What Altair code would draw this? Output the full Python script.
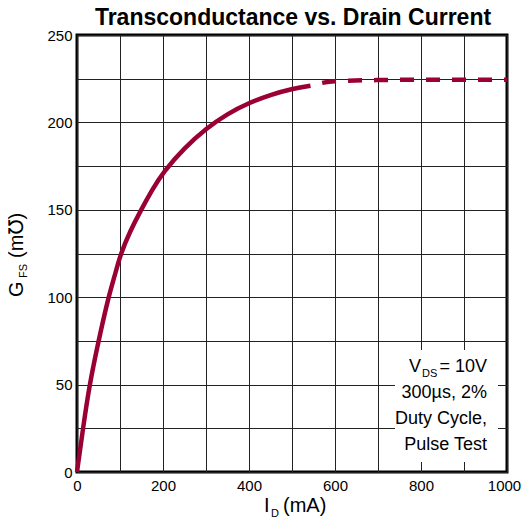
import altair as alt
import pandas as pd

# ---- data ----
ID_SOLID = [0, 14, 29, 50, 73, 88, 101, 123, 149, 175, 200, 250, 300, 350, 400, 450, 500, 543]
G_SOLID = [0, 25, 50, 75, 100, 112.5, 124.5, 137.5, 150, 161.5, 171.5, 185.5, 196.5, 205, 211.2, 215.8, 219.2, 221]
ID_DASH = [543, 600, 700, 800, 900, 1000]
G_DASH = [221, 223.6, 224.2, 224.4, 224.4, 224.4]

X_TICKS = list(range(0, 1001, 100))
Y_TICKS = list(range(0, 251, 25))

TITLE = "Transconductance vs. Drain Current"
NOTE_LINES = ["300µs, 2%", "Duty Cycle,", "Pulse Test"]

FONT = "Liberation Sans, Arial, DejaVu Sans, sans-serif"
RED = "#9b0034"

solid = pd.DataFrame({"id": ID_SOLID, "g": G_SOLID})
dash = pd.DataFrame({"id": ID_DASH, "g": G_DASH})
one = pd.DataFrame({"k": [0]})

xs = alt.Scale(domain=[0, 1000], nice=False)
ys = alt.Scale(domain=[0, 250], nice=False)

x_axis = alt.Axis(values=X_TICKS, grid=True, ticks=False, tickSize=0, domain=False,
                  labelExpr="datum.value % 200 === 0 ? datum.label : ''",
                  labelOffset={"condition": {"test": "datum.value === 1000", "value": -3}, "value": 0},
                  labelFlush=False, labelPadding=6, title=None, format="d")
y_axis = alt.Axis(values=Y_TICKS, grid=True, ticks=False, tickSize=0, domain=False,
                  labelExpr="datum.value % 50 === 0 ? datum.label : ''",
                  labelPadding=5, title=None, format="d")

base_solid = alt.Chart(solid).mark_line(color=RED, strokeWidth=4.5, interpolate="basis").encode(
    x=alt.X("id:Q", scale=xs, axis=x_axis),
    y=alt.Y("g:Q", scale=ys, axis=y_axis),
)
dashed = alt.Chart(dash).mark_line(color=RED, strokeWidth=4.5, interpolate="monotone",
                                   strokeDash=[14, 12], strokeDashOffset=14).encode(
    x=alt.X("id:Q", scale=xs),
    y=alt.Y("g:Q", scale=ys),
)

box = alt.Chart(one).mark_rect(color="white").encode(
    x=alt.value(318), x2=alt.value(421), y=alt.value(315), y2=alt.value(427)
)


def txt(s, x, y, size, align="left", weight="normal", angle=0, baseline="alphabetic"):
    return alt.Chart(one).mark_text(text=s, font=FONT, fontSize=size, align=align,
                                    baseline=baseline, fontWeight=weight, angle=angle,
                                    color="black").encode(x=alt.value(x), y=alt.value(y))


texts = [
    txt(TITLE, 216, -10, 23, align="center", weight="bold"),
    # annotation
    txt("V", 332, 337, 18),
    txt("DS", 345, 342, 11),
    txt("= 10V", 410, 337, 18, align="right"),
    txt(NOTE_LINES[0], 410, 363, 18, align="right"),
    txt(NOTE_LINES[1], 410, 389, 18, align="right"),
    txt(NOTE_LINES[2], 410, 415, 18, align="right"),
    # x title
    txt("I", 187, 477, 20),
    txt("D", 194, 482, 11),
    txt("(mA)", 206, 477, 20),
    # y title (rotated)
    txt("G", -54, 262, 20, angle=270),
    txt("FS", -50, 243, 11, angle=270),
    txt("(m\u2127)", -54, 223, 20, angle=270),
]

chart = alt.layer(base_solid, box, dashed, *texts).properties(
    width=430, height=437,
    padding={"left": 69, "top": 27, "right": 15, "bottom": 48},
    autosize=alt.AutoSizeParams(type="none"),
).configure_view(stroke="black", strokeWidth=3).configure_axis(
    gridColor="#222", gridWidth=1, gridOpacity=1,
    labelFont=FONT, labelFontSize=15, labelColor="black",
)

chart.save("out.html", embed_options={"renderer": "svg", "actions": False})
